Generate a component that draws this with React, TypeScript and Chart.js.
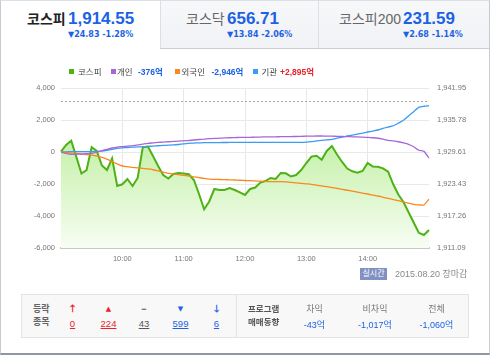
import React, { useEffect, useRef } from 'react';
import { Chart, registerables } from 'chart.js';
Chart.register(...registerables);

const timeLabels = [
  '09:00','09:05','09:10','09:15','09:20','09:25','09:30','09:35','09:40','09:45','09:50','09:55',
  '10:00','10:05','10:10','10:15','10:20','10:25','10:30','10:35','10:40','10:45','10:50','10:55',
  '11:00','11:05','11:10','11:15','11:20','11:25','11:30','11:35','11:40','11:45','11:50','11:55',
  '12:00','12:05','12:10','12:15','12:20','12:25','12:30','12:35','12:40','12:45','12:50','12:55',
  '13:00','13:05','13:10','13:15','13:20','13:25','13:30','13:35','13:40','13:45','13:50','13:55',
  '14:00','14:05','14:10','14:15','14:20','14:25','14:30','14:35','14:40','14:45','14:50','14:55',
  '15:00'
];
const hourLabels = ['10:00', '11:00', '12:00', '13:00', '14:00'];

const kospi = [
  1929.66, 1930.96, 1931.79, 1928.66, 1925.46, 1926.13, 1930.51, 1929.80, 1927.00, 1926.13,
  1928.39, 1923.05, 1923.38, 1924.40, 1923.05, 1924.59, 1930.51, 1930.67, 1928.83, 1926.91,
  1925.17, 1924.49, 1925.36, 1925.56, 1925.44, 1925.31, 1924.21, 1921.51, 1918.55, 1920.06,
  1922.47, 1922.28, 1922.28, 1922.66, 1922.28, 1921.80, 1921.31, 1922.47, 1922.76, 1923.72,
  1924.01, 1924.59, 1924.40, 1925.56, 1925.50, 1924.88, 1925.17, 1926.13, 1927.48, 1928.72,
  1928.89, 1928.12, 1929.80, 1930.76, 1929.12, 1927.68, 1926.42, 1925.88, 1925.61, 1925.94,
  1927.48, 1926.81, 1926.77, 1926.46, 1925.81, 1923.38, 1921.41, 1919.96, 1917.98, 1916.01,
  1914.02, 1913.60, 1914.55
];
const individual = [
  0, -80, -140, -140, -130, -110, -80, 0, 80, 170,
  250, 310, 340, 370, 400, 440, 490, 540, 570, 600,
  620, 640, 660, 680, 700, 720, 750, 780, 800, 830,
  850, 865, 880, 890, 900, 910, 915, 920, 925, 935,
  945, 950, 950, 955, 960, 965, 970, 980, 990, 995,
  1000, 1000, 995, 990, 980, 970, 960, 950, 940, 925,
  910, 890, 860, 800, 730, 690, 640, 570, 480, 330,
  110, 40, -376
];
const foreign = [
  0, -30, -60, -90, -125, -160, -200, -250, -330, -450,
  -600, -740, -875, -920, -960, -990, -1030, -1060, -1110, -1180,
  -1260, -1330, -1380, -1420, -1460, -1500, -1550, -1600, -1650, -1690,
  -1710, -1720, -1730, -1740, -1750, -1765, -1780, -1795, -1810, -1825,
  -1840, -1850, -1850, -1850, -1870, -1900, -1930, -1960, -1990, -2020,
  -2070, -2120, -2170, -2220, -2270, -2330, -2390, -2450, -2510, -2570,
  -2625, -2690, -2750, -2830, -2900, -2970, -3040, -3120, -3200, -3270,
  -3310, -3310, -2946
];
const institution = [
  0, 10, 20, 20, 20, 20, 20, 30, 60, 110,
  170, 230, 260, 280, 300, 315, 330, 350, 370, 390,
  410, 425, 440, 470, 510, 540, 560, 570, 580, 585,
  590, 592, 594, 596, 598, 600, 600, 600, 600, 600,
  600, 600, 600, 600, 600, 600, 600, 605, 620, 650,
  690, 730, 760, 790, 860, 930, 1000, 1060, 1120, 1180,
  1250, 1310, 1375, 1480, 1560, 1640, 1800, 1980, 2250, 2520,
  2790, 2860, 2895
];

const leftTicks = [-6000, -4000, -2000, 0, 2000, 4000];
const rightTicks = [1911.09, 1917.26, 1923.43, 1929.61, 1935.78, 1941.95];
const prevClose = 1939.38;

const FONT = '"Liberation Sans", "Noto Sans CJK KR", sans-serif';
const TAHOMA = '"DejaVu Sans", "Noto Sans CJK KR", sans-serif';
const BLUE = '#1d62e4';
const RED = '#e8222b';

type TP = {
  x: number; cy: number; size: number; color?: string; bold?: boolean;
  children?: React.ReactNode; align?: 'left' | 'center'; family?: string; underline?: boolean;
};
function T({ x, cy, size, color = '#333', bold, children, align = 'left', family = FONT, underline }: TP) {
  const style: React.CSSProperties = {
    position: 'absolute', left: x, top: cy - 10, height: 20, lineHeight: '20px',
    fontSize: size, color, fontWeight: bold ? 700 : 400, fontFamily: family, whiteSpace: 'nowrap',
    transform: align === 'center' ? 'translateX(-50%)' : undefined,
    textDecoration: underline ? 'underline' : undefined,
  };
  return <div style={style}>{children}</div>;
}

function Sq({ x, cy, color }: { x: number; cy: number; color: string }) {
  return <div style={{ position: 'absolute', left: x, top: cy - 2.5, width: 5, height: 5, background: color }} />;
}

const prevClosePlugin = {
  id: 'prevClose',
  beforeDatasetsDraw(chart: any) {
    const { ctx, chartArea } = chart;
    const y = Math.round(chart.scales.y1.getPixelForValue(prevClose)) + 0.5;
    ctx.save();
    ctx.setLineDash([2, 2]);
    ctx.strokeStyle = '#a8a8a8';
    ctx.lineWidth = 1;
    ctx.beginPath();
    ctx.moveTo(chartArea.left, y);
    ctx.lineTo(chartArea.right, y);
    ctx.stroke();
    ctx.restore();
  },
};

function KospiChart() {
  const ref = useRef<HTMLCanvasElement>(null);
  useEffect(() => {
    if (!ref.current) return;
    const chart = new Chart(ref.current, {
      type: 'line',
      data: {
        labels: timeLabels,
        datasets: [
          { label: '개인', data: individual, yAxisID: 'y', borderColor: '#a767d8', borderWidth: 1.3, pointRadius: 0, tension: 0.2, order: 1 },
          { label: '외국인', data: foreign, yAxisID: 'y', borderColor: '#f7891f', borderWidth: 1.3, pointRadius: 0, tension: 0.2, order: 2 },
          { label: '기관', data: institution, yAxisID: 'y', borderColor: '#3a9cf2', borderWidth: 1.3, pointRadius: 0, tension: 0.2, order: 3 },
          {
            label: '코스피', data: kospi, yAxisID: 'y1', borderColor: '#4cb215', borderWidth: 2, pointRadius: 0, tension: 0,
            fill: 'start', order: 10,
            backgroundColor: (c: any) => {
              const area = c.chart.chartArea;
              if (!area) return 'rgba(190,238,160,0.8)';
              const g = c.chart.ctx.createLinearGradient(0, area.top, 0, area.bottom);
              g.addColorStop(0, 'rgb(176,234,138)');
              g.addColorStop(0.35, 'rgb(198,241,170)');
              g.addColorStop(1, 'rgb(247,253,243)');
              return g;
            },
          },
        ],
      },
      options: {
        animation: false,
        responsive: false,
        maintainAspectRatio: false,
        layout: { padding: { top: 38, left: 0, right: 0, bottom: 0 } },
        plugins: { legend: { display: false }, tooltip: { enabled: false } },
        scales: {
          x: {
            grid: {
              color: (c: any) => (hourLabels.includes(timeLabels[c.index]) ? '#e8e8e8' : 'rgba(0,0,0,0)'),
              drawTicks: false,
            },
            border: { color: '#c8c8c8', width: 2 },
            ticks: {
              autoSkip: false, maxRotation: 0, padding: 6, color: '#777',
              font: { family: '"Liberation Sans"', size: 7.5 },
              callback: (_v: any, i: number) => (hourLabels.includes(timeLabels[i]) ? timeLabels[i] : ''),
            },
            afterFit: (s: any) => { s.height = 18; },
          },
          y: {
            position: 'left', min: -6000, max: 4000,
            afterBuildTicks: (s: any) => { s.ticks = leftTicks.map((v) => ({ value: v })); },
            grid: { color: '#e9e9e9', drawTicks: false },
            border: { display: false },
            ticks: {
              padding: 6, color: '#777', font: { family: '"Liberation Sans"', size: 7.5 },
              callback: (v: any) => Number(v).toLocaleString('en-US'),
            },
            afterFit: (s: any) => { s.width = 61; },
          },
          y1: {
            position: 'right', min: 1911.09, max: 1941.95,
            afterBuildTicks: (s: any) => { s.ticks = rightTicks.map((v) => ({ value: v })); },
            grid: { display: false, drawTicks: false },
            border: { display: false },
            ticks: {
              padding: 8, color: '#777', font: { family: '"Liberation Sans"', size: 7.5 },
              callback: (v: any) => Number(v).toLocaleString('en-US', { minimumFractionDigits: 2, maximumFractionDigits: 2 }),
            },
            afterFit: (s: any) => { s.width = 61; },
          },
        },
      },
      plugins: [prevClosePlugin],
    } as any);
    return () => chart.destroy();
  }, []);
  return <canvas ref={ref} width={490} height={216} style={{ position: 'absolute', left: 0, top: 50, width: 490, height: 216 }} />;
}

export default function App() {
  useEffect(() => {
    document.body.style.margin = '0';
  }, []);
  const tabBase: React.CSSProperties = {
    position: 'absolute', top: 0, height: 48, background: 'linear-gradient(#f7f8fa,#f1f2f5)',
    borderLeft: '1px solid #dcdfe5', borderBottom: '1px solid #c9ced6',
  };
  return (
    <div style={{ position: 'relative', width: 490, height: 356, background: '#fff', overflow: 'hidden', fontFamily: FONT }}>
      {/* tabs */}
      <div style={{ ...tabBase, left: 160, width: 157 }} />
      <div style={{ ...tabBase, left: 318, width: 172 }} />

      <T x={27} cy={19} size={14} bold color="#222">코스피</T>
      <T x={68} cy={19} size={17} bold color={BLUE}>1,914.55</T>
      <T x={68} cy={34.5} size={8} bold color={BLUE} family={TAHOMA}>▼24.83 -1.28%</T>

      <T x={186} cy={19} size={14} color="#666">코스닥</T>
      <T x={227} cy={19} size={17} bold color={BLUE}>656.71</T>
      <T x={227} cy={34.5} size={8} bold color={BLUE} family={TAHOMA}>▼13.84 -2.06%</T>

      <T x={339} cy={19} size={14} color="#666">코스피200</T>
      <T x={403} cy={19} size={17} bold color={BLUE}>231.59</T>
      <T x={403} cy={34.5} size={8} bold color={BLUE} family={TAHOMA}>▼2.68 -1.14%</T>

      <KospiChart />

      {/* legend */}
      <Sq x={69} cy={71.5} color="#4cb215" />
      <T x={78} cy={72} size={8.5} color="#444">코스피</T>
      <Sq x={111} cy={71.5} color="#a767d8" />
      <T x={117} cy={72} size={8.5} color="#444">개인</T>
      <T x={138} cy={72} size={8.5} bold color={BLUE}>-376억</T>
      <Sq x={175} cy={71.5} color="#f7891f" />
      <T x={181.5} cy={72} size={8.5} color="#444">외국인</T>
      <T x={211.5} cy={72} size={8.5} bold color={BLUE}>-2,946억</T>
      <Sq x={253} cy={71.5} color="#3a9cf2" />
      <T x={261.5} cy={72} size={8.5} color="#444">기관</T>
      <T x={280} cy={72} size={8.5} bold color={RED}>+2,895억</T>

      {/* status */}
      <div style={{
        position: 'absolute', left: 360, top: 268, width: 27, height: 12, background: '#8191c4',
        color: '#fff', fontSize: 8, lineHeight: '12px', textAlign: 'center', fontFamily: FONT,
      }}>실시간</div>
      <T x={395} cy={274} size={9} color="#888">2015.08.20 장마감</T>

      {/* bottom box */}
      <div style={{
        position: 'absolute', left: 21, top: 294, width: 446, height: 42, background: '#f8f8f8',
        border: '1px solid #e4e4e4',
      }} />
      <div style={{ position: 'absolute', left: 236, top: 295, width: 1, height: 42, background: '#e4e4e4' }} />

      <T x={33} cy={309} size={9} bold color="#666">등락</T>
      <T x={33} cy={322} size={9} bold color="#666">종목</T>

      <T x={72.5} cy={309} size={10} bold color={RED} align="center">🡑</T>
      <T x={72.5} cy={324} size={9.5} color={RED} align="center" underline>0</T>
      <T x={108.5} cy={309} size={7} color={RED} align="center" family={TAHOMA}>▲</T>
      <T x={108.5} cy={324} size={9.5} color={RED} align="center" underline>224</T>
      <T x={144} cy={309} size={9} bold color="#555" align="center">−</T>
      <T x={144} cy={324} size={9.5} color="#555" align="center" underline>43</T>
      <T x={180.5} cy={309} size={7} color={BLUE} align="center" family={TAHOMA}>▼</T>
      <T x={180.5} cy={324} size={9.5} color={BLUE} align="center" underline>599</T>
      <T x={216.5} cy={309} size={10} bold color={BLUE} align="center">🡓</T>
      <T x={216.5} cy={324} size={9.5} color={BLUE} align="center" underline>6</T>

      <T x={248} cy={309} size={8.5} bold color="#555">프로그램</T>
      <T x={248} cy={322} size={8.5} bold color="#555">매매동향</T>
      <T x={314.5} cy={309} size={9} color="#777" align="center">차익</T>
      <T x={314.5} cy={325} size={9} color={BLUE} align="center">-43억</T>
      <T x={375} cy={309} size={9} color="#777" align="center">비차익</T>
      <T x={375} cy={325} size={9} color={BLUE} align="center">-1,017억</T>
      <T x={436.5} cy={309} size={9} color="#777" align="center">전체</T>
      <T x={436.5} cy={325} size={9} color={BLUE} align="center">-1,060억</T>

      {/* frame */}
      <div style={{
        position: 'absolute', left: 0, top: 0, width: 490, height: 355, boxSizing: 'border-box',
        borderLeft: '1px solid #c5cad3', borderRight: '1px solid #c5cad3', borderTop: '1px solid #dcdfe5',
        borderBottom: '2px solid #8f97a4', pointerEvents: 'none',
      }} />
    </div>
  );
}
